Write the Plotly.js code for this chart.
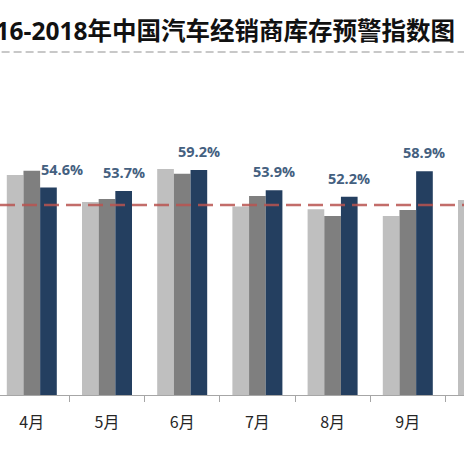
<!DOCTYPE html>
<html>
<head>
<meta charset="utf-8">
<script src="https://cdn.plot.ly/plotly-3.0.1.min.js"></script>
<style>
html,body{margin:0;padding:0;background:#fff;overflow:hidden;}
#chart{width:464px;height:462px;}
</style>
</head>
<body>
<div id="chart"></div>
<script>
// ---- data ----
const months = ['3月','4月','5月','6月','7月','8月','9月','10月'];
const series2016 = [57.5, 57.9, 50.8, 59.5, 49.6, 48.9, 47.1, 51.3];
const series2017 = [59.5, 59.0, 51.6, 58.2, 52.4, 47.1, 48.7, 50.5];
const series2018 = [54.0, 54.6, 53.7, 59.2, 53.9, 52.2, 58.9, 55.0];
const seriesNames = ['2016年', '2017年', '2018年'];
const warningLine = 50;
const titleText = '2016-2018年中国汽车经销商库存预警指数图';

// ---- chart ----
const colors = ['#BFBFBF', '#7F7F7F', '#243F60'];
const seriesList = [series2016, series2017, series2018];
const traces = seriesList.map((vals, i) => ({
  type: 'bar',
  name: seriesNames[i],
  x: months,
  y: vals,
  marker: {color: colors[i]},
  hoverinfo: 'x+y'
}));

const catPx = 75.2;          // approximate category width in px
const bargap = 0.335;
const barPx = catPx * (1 - bargap) / 3;

const annotations = months.map((m, i) => {
  // labels shifted right when the 2018 bar is lower than the 2017 bar
  const shiftRight = series2018[i] < series2017[i] ? 14 : 0;
  const a = {
    x: m, y: series2018[i], xref: 'x', yref: 'y',
    text: series2018[i].toFixed(1) + '%',
    showarrow: false, yanchor: 'bottom',
    xshift: barPx + shiftRight, yshift: 7,
    font: {family: '"Open Sans", "Noto Sans CJK SC", sans-serif', size: 14.5, color: '#44607F', weight: 700}
  };
  if (i === 0) { a.axref = 'x'; a.ax = months[1]; }
  return a;
});

const layout = {
  width: 464, height: 462,
  margin: {l: 0, r: 0, t: 129, b: 67, pad: 0},
  paper_bgcolor: '#ffffff', plot_bgcolor: '#ffffff',
  showlegend: false,
  barmode: 'group', bargap: bargap, bargroupgap: 0,
  title: {
    text: '<b>' + titleText + '</b>',
    xref: 'container', yref: 'container',
    x: 455 / 464, xanchor: 'right',
    y: 1 - 31 / 462, yanchor: 'middle',
    font: {family: '"Open Sans", "Noto Sans CJK SC", sans-serif', size: 24.5, color: '#111111'}
  },
  xaxis: {
    type: 'category',
    range: [1 - 31.8 / catPx, 1 + (464 - 31.8) / catPx],
    showgrid: false, zeroline: false,
    showline: true, linecolor: '#A6A6A6', linewidth: 1,
    ticks: 'outside', tickson: 'boundaries', ticklen: 6, tickcolor: '#A6A6A6',
    tickfont: {family: '"Noto Sans CJK SC", sans-serif', size: 16, color: '#262626'},
    ticklabelstandoff: 13,
    fixedrange: true
  },
  yaxis: {
    range: [0, 70],
    visible: false, showgrid: false, zeroline: false, fixedrange: true
  },
  shapes: [
    {type: 'line', xref: 'paper', yref: 'y', x0: 0, x1: 1, y0: warningLine, y1: warningLine,
     layer: 'above', line: {color: 'rgba(184,84,80,0.85)', width: 2.5, dash: '15px,7px'}},
    {type: 'line', xref: 'paper', yref: 'paper', x0: -0.1, x1: 1.1,
     y0: (462 - 67 - 52) / (462 - 129 - 67), y1: (462 - 67 - 52) / (462 - 129 - 67),
     layer: 'above', line: {color: '#C8C8C8', width: 2, dash: '8px,4px'}}
  ],
  annotations: annotations
};

Plotly.newPlot('chart', traces, layout, {displayModeBar: false, staticPlot: true});
</script>
</body>
</html>
